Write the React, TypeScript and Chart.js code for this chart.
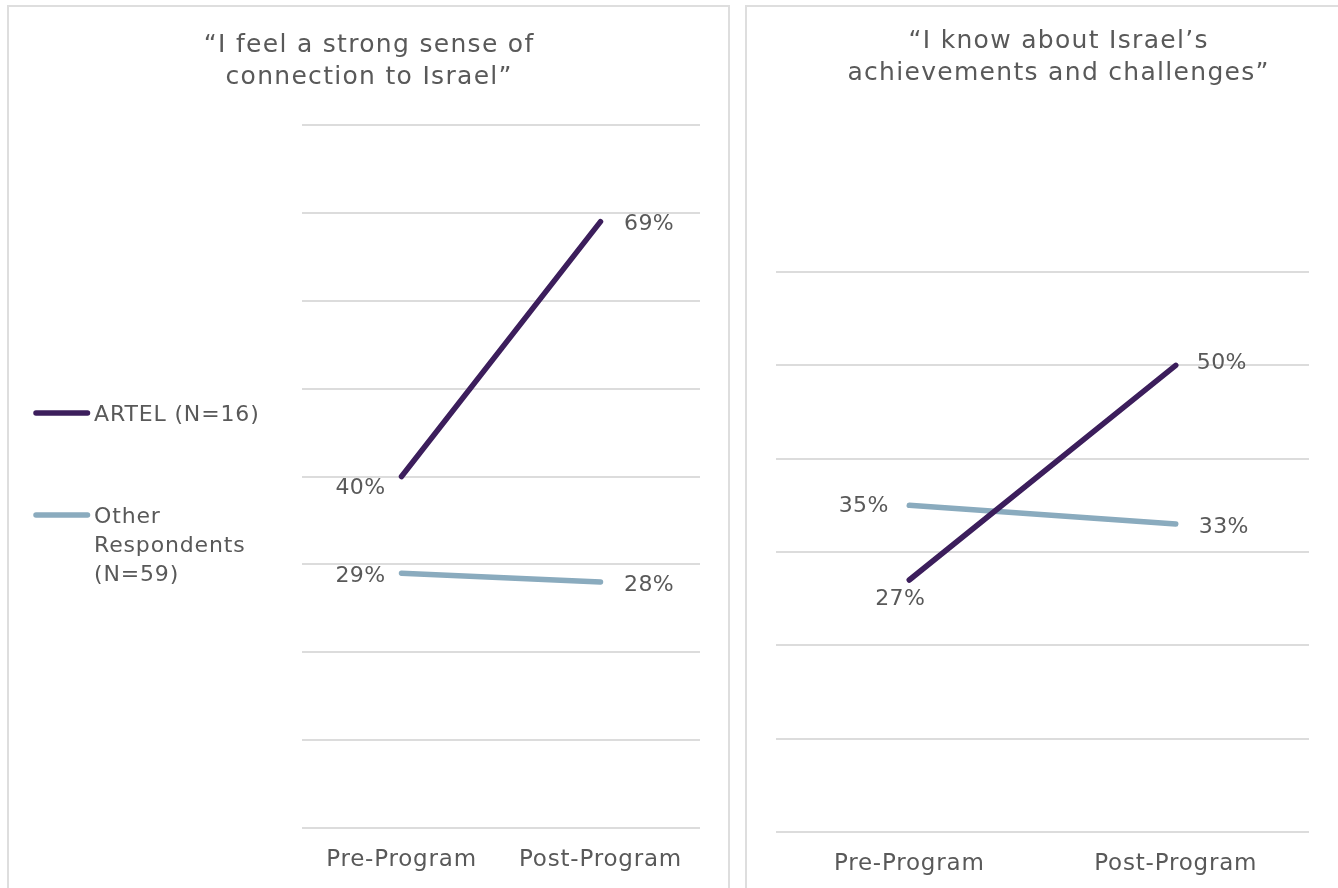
import React, { useEffect, useRef } from 'react';
import { Chart, registerables } from 'chart.js';

Chart.register(...registerables);

// ---- data ----
const categories = ['Pre-Program', 'Post-Program'];
const seriesNames = ['ARTEL (N=16)', 'Other Respondents (N=59)'];

const connectionTitle = ['“I feel a strong sense of', 'connection to Israel”'];
const connectionArtel = [40, 69];
const connectionOther = [29, 28];
const connectionMax = 80;

const knowledgeTitle = ['“I know about Israel’s', 'achievements and challenges”'];
const knowledgeArtel = [27, 50];
const knowledgeOther = [35, 33];
const knowledgeMax = 60;

const yStep = 10;

// ---- styling ----
const FONT = '"DejaVu Sans", sans-serif';
const TEXT = '#595959';
const ARTEL_COLOR = '#3c1e5c';
const OTHER_COLOR = '#8aabbe';
const GRID = '#dcdcdc';
const PANEL_BORDER = '#dedede';

type Place = { dx: number; dy: number; align: CanvasTextAlign };

interface PanelSpec {
  title: string[];
  artel: number[];
  other: number[];
  yMax: number;
  width: number;
  height: number;
  pad: { left: number; right: number; top: number };
  axisHeight: number;
  titleBaseline: number;
  places: Place[][];
  legend: boolean;
}

const connectionSpec: PanelSpec = {
  title: connectionTitle,
  artel: connectionArtel,
  other: connectionOther,
  yMax: connectionMax,
  width: 719,
  height: 881,
  pad: { left: 293, right: 28, top: 118 },
  axisHeight: 60,
  titleBaseline: 45,
  places: [
    [
      { dx: -16, dy: 17, align: 'right' },
      { dx: 23.5, dy: 8.5, align: 'left' },
    ],
    [
      { dx: -16, dy: 9, align: 'right' },
      { dx: 23.5, dy: 9, align: 'left' },
    ],
  ],
  legend: true,
};

const knowledgeSpec: PanelSpec = {
  title: knowledgeTitle,
  artel: knowledgeArtel,
  other: knowledgeOther,
  yMax: knowledgeMax,
  width: 622,
  height: 881,
  pad: { left: 29, right: 60, top: 265 },
  axisHeight: 56,
  titleBaseline: 41,
  places: [
    [
      { dx: -9, dy: 25, align: 'center' },
      { dx: 21, dy: 4, align: 'left' },
    ],
    [
      { dx: -20.5, dy: 7, align: 'right' },
      { dx: 23, dy: 9, align: 'left' },
    ],
  ],
  legend: false,
};

function wrapWords(ctx: CanvasRenderingContext2D, text: string, maxWidth: number): string[] {
  const words = text.split(' ');
  const lines: string[] = [];
  let cur = '';
  for (const w of words) {
    const next = cur ? cur + ' ' + w : w;
    if (cur && ctx.measureText(next).width > maxWidth) {
      lines.push(cur);
      cur = w;
    } else {
      cur = next;
    }
  }
  if (cur) lines.push(cur);
  return lines;
}

function panelTextPlugin(spec: PanelSpec) {
  return {
    id: 'panelText',
    beforeDraw(chart: Chart) {
      // spacing used by the category tick labels
      (chart.ctx as any).letterSpacing = '0.8px';
    },
    afterDraw(chart: Chart) {
      const ctx = chart.ctx as CanvasRenderingContext2D & { letterSpacing: string };
      ctx.save();
      ctx.fillStyle = TEXT;
      ctx.textBaseline = 'alphabetic';

      // two-line quoted title
      ctx.font = `25px ${FONT}`;
      ctx.letterSpacing = '1.3px';
      ctx.textAlign = 'center';
      spec.title.forEach((line, i) => {
        ctx.fillText(line, chart.width / 2 + 0.65, spec.titleBaseline + i * 32);
      });

      // value labels beside each point
      ctx.font = `22px ${FONT}`;
      ctx.letterSpacing = '0.4px';
      chart.data.datasets.forEach((ds, di) => {
        const meta = chart.getDatasetMeta(di);
        meta.data.forEach((pt: any, pi: number) => {
          const p = spec.places[di][pi];
          ctx.textAlign = p.align;
          ctx.fillText(`${ds.data[pi]}%`, pt.x + p.dx, pt.y + p.dy);
        });
      });

      // vertical legend on the left
      if (spec.legend) {
        ctx.font = `22px ${FONT}`;
        ctx.letterSpacing = '0.85px';
        ctx.textAlign = 'left';
        const rows = [406, 508];
        chart.data.datasets.forEach((ds: any, di) => {
          const y = rows[di];
          ctx.strokeStyle = ds.borderColor;
          ctx.lineWidth = 5.5;
          ctx.lineCap = 'round';
          ctx.beginPath();
          ctx.moveTo(27, y);
          ctx.lineTo(78.5, y);
          ctx.stroke();
          const lines = wrapWords(ctx, ds.label, 180);
          lines.forEach((l, li) => {
            ctx.fillText(l, 85, y + 8 + li * 29);
          });
        });
      }

      ctx.restore();
      ctx.letterSpacing = '0px';
    },
  };
}

function LinePanel({ spec }: { spec: PanelSpec }) {
  const ref = useRef<HTMLCanvasElement | null>(null);

  useEffect(() => {
    if (!ref.current) return;
    const chart = new Chart(ref.current, {
      type: 'line',
      data: {
        labels: categories,
        datasets: [
          {
            label: seriesNames[0],
            data: spec.artel,
            borderColor: ARTEL_COLOR,
            backgroundColor: ARTEL_COLOR,
            borderWidth: 5.5,
            borderCapStyle: 'round',
            pointRadius: 0,
            tension: 0,
          },
          {
            label: seriesNames[1],
            data: spec.other,
            borderColor: OTHER_COLOR,
            backgroundColor: OTHER_COLOR,
            borderWidth: 5.5,
            borderCapStyle: 'round',
            pointRadius: 0,
            tension: 0,
          },
        ],
      },
      options: {
        responsive: false,
        animation: false,
        devicePixelRatio: 1,
        layout: {
          padding: { left: spec.pad.left, right: spec.pad.right, top: spec.pad.top, bottom: 0 },
        },
        plugins: {
          legend: { display: false },
          tooltip: { enabled: false },
          title: { display: false },
        },
        scales: {
          x: {
            type: 'category',
            offset: true,
            grid: { display: false },
            border: { display: false },
            ticks: {
              color: TEXT,
              font: { family: FONT, size: 23 },
              padding: 10,
              maxRotation: 0,
              autoSkip: false,
            },
            afterFit: (s: any) => {
              s.height = spec.axisHeight;
            },
          },
          y: {
            min: 0,
            max: spec.yMax,
            ticks: { display: false, stepSize: yStep },
            grid: { color: GRID, lineWidth: 2, drawTicks: false },
            border: { display: false },
            afterFit: (s: any) => {
              s.width = 0;
            },
          },
        },
      },
      plugins: [panelTextPlugin(spec)],
    } as any);
    return () => chart.destroy();
  }, [spec]);

  return (
    <canvas
      ref={ref}
      width={spec.width}
      height={spec.height}
      style={{ position: 'absolute', left: 0, top: 0, width: spec.width, height: spec.height }}
    />
  );
}

export default function App() {
  const panel: React.CSSProperties = {
    position: 'absolute',
    top: 5,
    height: 900,
    border: `2px solid ${PANEL_BORDER}`,
    boxSizing: 'border-box',
    background: '#ffffff',
  };
  return (
    <div
      style={{
        position: 'fixed',
        left: 0,
        top: 0,
        width: 1338,
        height: 888,
        overflow: 'hidden',
        background: '#ffffff',
      }}
    >
      <div style={{ ...panel, left: 7, width: 723 }}>
        <LinePanel spec={connectionSpec} />
      </div>
      <div style={{ ...panel, left: 745, width: 626 }}>
        <LinePanel spec={knowledgeSpec} />
      </div>
    </div>
  );
}
